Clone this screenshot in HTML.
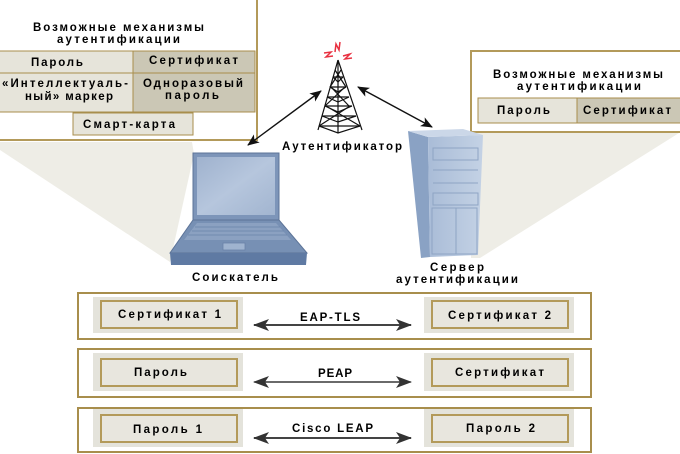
<!DOCTYPE html>
<html><head><meta charset="utf-8"><style>
html,body{margin:0;padding:0;background:#fff;}
svg{display:block;}
text{font-family:"Liberation Sans","DejaVu Sans",sans-serif;font-weight:bold;font-size:11.5px;fill:#000;}
</style></head><body>
<svg width="680" height="454" viewBox="0 0 680 454" xmlns="http://www.w3.org/2000/svg">
<defs>
<marker id="ah" markerUnits="userSpaceOnUse" markerWidth="12" markerHeight="10" refX="11" refY="5" orient="auto-start-reverse">
<path d="M0,0 L12,5 L0,10 L3,5 z" fill="#111"/>
</marker>
<marker id="ab" markerUnits="userSpaceOnUse" markerWidth="16" markerHeight="12" refX="15" refY="6" orient="auto-start-reverse">
<path d="M0,0 L16,6 L0,12 L4,6 z" fill="#333"/>
</marker>
<linearGradient id="scr" x1="0" y1="0" x2="1" y2="1">
<stop offset="0" stop-color="#9fb2ce"/><stop offset="0.5" stop-color="#b6c6dd"/><stop offset="1" stop-color="#a2b5d0"/>
</linearGradient>
<linearGradient id="srv" x1="0" y1="0" x2="1" y2="0">
<stop offset="0" stop-color="#a9bcd7"/><stop offset="1" stop-color="#c4d2e5"/>
</linearGradient>
</defs>

<!-- shadows -->
<polygon points="0,142 192,142 194,154 170,262 0,150" fill="#eeede6"/>
<polygon points="471,133 679,133 480,258 471,258" fill="#eeede6"/>

<!-- left top box -->
<rect x="-5" y="-5" width="262" height="145" fill="#fff" stroke="#b39a5a" stroke-width="2"/>
<text x="33" y="31" textLength="171" lengthAdjust="spacing">Возможные механизмы</text>
<text x="57" y="43" textLength="123" lengthAdjust="spacing">аутентификации</text>
<rect x="-2" y="51" width="135" height="22" fill="#e6e4da" stroke="#a88e4c" stroke-width="1"/>
<rect x="133" y="51" width="122" height="22" fill="#cbc7b5" stroke="#a88e4c" stroke-width="1"/>
<rect x="-2" y="73" width="135" height="39" fill="#e6e4da" stroke="#a88e4c" stroke-width="1"/>
<rect x="133" y="73" width="122" height="39" fill="#cbc7b5" stroke="#a88e4c" stroke-width="1"/>
<rect x="73" y="113" width="120" height="22" fill="#e6e4da" stroke="#a88e4c" stroke-width="1"/>
<text x="31" y="66" textLength="52" lengthAdjust="spacing">Пароль</text>
<text x="149" y="64" textLength="89" lengthAdjust="spacing">Сертификат</text>
<text x="2" y="87" textLength="126" lengthAdjust="spacing">«Интеллектуаль-</text>
<text x="25" y="100" textLength="88" lengthAdjust="spacing">ный» маркер</text>
<text x="143" y="87" textLength="100" lengthAdjust="spacing">Одноразовый</text>
<text x="165" y="99" textLength="54" lengthAdjust="spacing">пароль</text>
<text x="83" y="128" textLength="92" lengthAdjust="spacing">Смарт-карта</text>

<!-- right top box -->
<rect x="471" y="51" width="215" height="81" fill="#fff" stroke="#b39a5a" stroke-width="2"/>
<text x="493" y="78" textLength="170" lengthAdjust="spacing">Возможные механизмы</text>
<text x="517" y="90" textLength="124" lengthAdjust="spacing">аутентификации</text>
<rect x="478" y="98" width="99" height="25" fill="#e6e4da" stroke="#a88e4c" stroke-width="1"/>
<rect x="577" y="98" width="110" height="25" fill="#cbc7b5" stroke="#a88e4c" stroke-width="1"/>
<text x="497" y="114" textLength="53" lengthAdjust="spacing">Пароль</text>
<text x="583" y="114" textLength="88" lengthAdjust="spacing">Сертификат</text>

<!-- tower -->
<g stroke="#111" stroke-width="1.2" fill="none">
<line x1="338" y1="60" x2="318" y2="130"/>
<line x1="338" y1="60" x2="362" y2="130"/>
<line x1="338" y1="60" x2="338" y2="133"/>
<path d="M333,77 L343,77 M330,87 L346,87 M327,97 L349,97 M325,106 L352,106 M322,116 L356,116 M319,126 L360,126"/>
<path d="M333,77 L338,82 L343,77 M330,87 L338,92 L346,87 M327,97 L338,102 L349,97 M325,106 L338,112 L352,106 M322,116 L338,122 L356,116 M319,126 L338,133 L360,126"/>
<path d="M335,70 L346,87 M341,70 L330,87 M331,87 L349,106 M345,87 L325,106 M326,106 L360,126 M350,106 L319,126"/>
</g>
<g stroke="#e83040" stroke-width="1.5" fill="none">
<path d="M335,52 L336,44 L339,50 L340,42"/>
<path d="M324,53 L331,52 L326,57 L333,56"/>
<path d="M343,56 L350,54 L345,59 L352,58"/>
</g>
<text x="282" y="150" textLength="120" lengthAdjust="spacing">Аутентификатор</text>

<!-- top arrows -->
<line x1="248" y1="145" x2="321" y2="91" stroke="#111" stroke-width="1.4" marker-start="url(#ah)" marker-end="url(#ah)"/>
<line x1="358" y1="87" x2="432" y2="127" stroke="#111" stroke-width="1.4" marker-start="url(#ah)" marker-end="url(#ah)"/>

<!-- laptop -->
<rect x="193" y="153" width="86" height="67" fill="#7d95b9" stroke="#5d7498" stroke-width="1"/>
<rect x="197" y="157" width="78" height="58" fill="url(#scr)"/>
<polygon points="193,220 279,220 307,253 170,253" fill="#7790b4" stroke="#5d7498" stroke-width="1"/>
<polygon points="197,223 276,223 291,240 184,240" fill="#8ba1c1"/>
<g stroke="#6a83a8" stroke-width="0.8">
<line x1="195" y1="227" x2="280" y2="227"/>
<line x1="192" y1="231" x2="284" y2="231"/>
<line x1="188" y1="235" x2="287" y2="235"/>
</g>
<rect x="223" y="243" width="22" height="7" fill="#9fb3cf" stroke="#6a83a8" stroke-width="0.8"/>
<polygon points="170,253 307,253 306,265 171,265" fill="#5f7aa3"/>
<text x="192" y="281" textLength="86" lengthAdjust="spacing">Соискатель</text>

<!-- server -->
<polygon points="408,131 428,137 430,257 421,258" fill="#8aa2c4"/>
<polygon points="428,137 483,135 478,255 430,257" fill="url(#srv)"/>
<polygon points="408,131 463,129 483,135 428,137" fill="#cbd7e8"/>
<g fill="none" stroke="#8ea4c4" stroke-width="1">
<rect x="433" y="148" width="45" height="12"/>
<rect x="433" y="193" width="45" height="12"/>
<rect x="432" y="208" width="24" height="46"/>
<rect x="456" y="208" width="21" height="46"/>
<line x1="433" y1="170" x2="478" y2="170"/>
<line x1="433" y1="183" x2="478" y2="183"/>
</g>
<text x="430" y="271" textLength="54" lengthAdjust="spacing">Сервер</text>
<text x="396" y="283" textLength="122" lengthAdjust="spacing">аутентификации</text>

<!-- bottom rows -->
<g>
<rect x="78" y="293" width="513" height="46" fill="#fff" stroke="#a88e4c" stroke-width="2"/>
<rect x="78" y="349" width="513" height="48" fill="#fff" stroke="#a88e4c" stroke-width="2"/>
<rect x="78" y="408" width="513" height="44" fill="#fff" stroke="#a88e4c" stroke-width="2"/>

<rect x="93" y="297" width="150" height="36" fill="#e4e3db"/>
<rect x="101" y="301" width="136" height="27" fill="#e8e6de" stroke="#b39a5a" stroke-width="2"/>
<rect x="424" y="297" width="150" height="36" fill="#e4e3db"/>
<rect x="432" y="301" width="136" height="27" fill="#e8e6de" stroke="#b39a5a" stroke-width="2"/>

<rect x="93" y="353" width="150" height="38" fill="#e4e3db"/>
<rect x="101" y="359" width="136" height="27" fill="#e8e6de" stroke="#b39a5a" stroke-width="2"/>
<rect x="424" y="353" width="150" height="38" fill="#e4e3db"/>
<rect x="432" y="359" width="136" height="27" fill="#e8e6de" stroke="#b39a5a" stroke-width="2"/>

<rect x="93" y="409" width="150" height="38" fill="#e4e3db"/>
<rect x="101" y="415" width="136" height="27" fill="#e8e6de" stroke="#b39a5a" stroke-width="2"/>
<rect x="424" y="409" width="150" height="38" fill="#e4e3db"/>
<rect x="432" y="415" width="136" height="27" fill="#e8e6de" stroke="#b39a5a" stroke-width="2"/>
</g>

<line x1="254" y1="325" x2="411" y2="325" stroke="#444" stroke-width="2" marker-start="url(#ab)" marker-end="url(#ab)"/>
<line x1="254" y1="382" x2="411" y2="382" stroke="#111" stroke-width="1.2" marker-start="url(#ab)" marker-end="url(#ab)"/>
<line x1="254" y1="438" x2="411" y2="438" stroke="#444" stroke-width="2" marker-start="url(#ab)" marker-end="url(#ab)"/>

<text x="118" y="318" textLength="103" lengthAdjust="spacing">Сертификат 1</text>
<text x="300" y="321" textLength="60" lengthAdjust="spacing">EAP-TLS</text>
<text x="448" y="319" textLength="103" lengthAdjust="spacing">Сертификат 2</text>

<text x="134" y="376" textLength="53" lengthAdjust="spacing">Пароль</text>
<text x="318" y="377" textLength="34" lengthAdjust="spacing">PEAP</text>
<text x="455" y="376" textLength="89" lengthAdjust="spacing">Сертификат</text>

<text x="133" y="433" textLength="69" lengthAdjust="spacing">Пароль 1</text>
<text x="292" y="432" textLength="81" lengthAdjust="spacing">Cisco LEAP</text>
<text x="466" y="432" textLength="69" lengthAdjust="spacing">Пароль 2</text>
</svg>
</body></html>
